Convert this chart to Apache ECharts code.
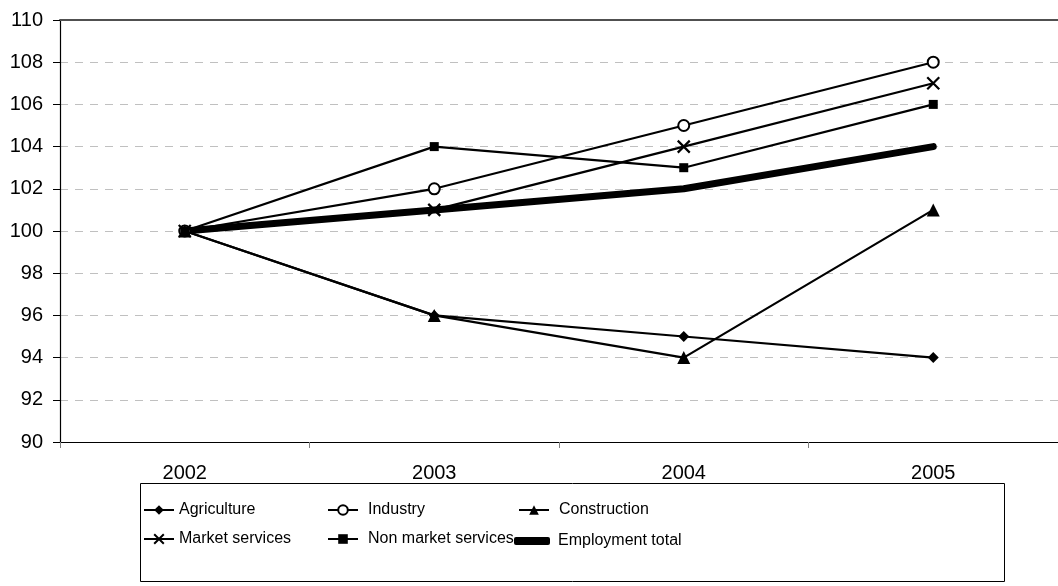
<!DOCTYPE html>
<html>
<head>
<meta charset="utf-8">
<script src="https://cdn.jsdelivr.net/npm/echarts@6/dist/echarts.min.js"></script>
<style>
  html, body { margin: 0; padding: 0; background: #fff; }
  #chart { width: 1058px; height: 586px; }
</style>
</head>
<body>
<div id="chart"></div>
<script>
// Employment index by sector, 2002 = 100
const years = ['2002', '2003', '2004', '2005'];
const agriculture = [100, 96, 95, 94];
const industry = [100, 102, 105, 108];
const construction = [100, 96, 94, 101];
const marketServices = [100, 101, 104, 107];
const nonMarketServices = [100, 104, 103, 106];
const employmentTotal = [100, 101, 102, 104];

const FONT = '"Liberation Sans", Arial, sans-serif';
const crossPath = 'path://M0,0L10,10M10,0L0,10';

function lineSeries(name, data, symbol, size, extra) {
  return Object.assign({
    name: name,
    type: 'line',
    data: data,
    symbol: symbol,
    symbolSize: size,
    showAllSymbol: true,
    color: '#000',
    lineStyle: { color: '#000', width: 2.2 },
    itemStyle: { color: '#000' },
    emphasis: { disabled: true }
  }, extra || {});
}

const series = [
  lineSeries('Agriculture', agriculture, 'diamond', 11),
  lineSeries('Industry', industry, 'emptyCircle', 11, {
    itemStyle: { color: '#000', borderColor: '#000', borderWidth: 1.8 }
  }),
  lineSeries('Construction', construction, 'triangle', 13),
  lineSeries('Market services', marketServices, crossPath, 12, {
    itemStyle: { color: 'rgba(0,0,0,0)', borderColor: '#000', borderWidth: 2.2 }
  }),
  lineSeries('Non market services', nonMarketServices, 'rect', 9),
  lineSeries('Employment total', employmentTotal, 'none', 0, {
    lineStyle: { color: '#000', width: 7, cap: 'round', join: 'round' }
  })
];

// one legend entry per slot so the 3x2 layout is fixed:
// [name, left, top, icon width, text offset]
const legendSlots = [
  ['Agriculture', 143, 502, 30, 0],
  ['Industry', 327, 502, 30, 5],
  ['Construction', 518, 502, 30, 5],
  ['Market services', 143, 531, 30, 0],
  ['Non market services', 327, 531, 30, 5],
  ['Employment total', 514, 531, 36, 3]
];

const legends = legendSlots.map(function (s) {
  const isTotal = s[0] === 'Employment total';
  const lg = {
    data: [s[0]],
    left: s[1],
    top: isTotal ? s[2] + 2 : s[2],
    itemWidth: s[3],
    itemHeight: isTotal ? 8 : 12,
    itemGap: 0,
    padding: 0,
    textStyle: {
      color: '#000', fontSize: 16, fontFamily: FONT,
      padding: [isTotal ? -2 : 0, 0, 0, s[4]]
    },
    selectedMode: false
  };
  if (isTotal) lg.icon = 'roundRect';
  return lg;
});

const chart = echarts.init(document.getElementById('chart'), null, { renderer: 'canvas' });
chart.setOption({
  animation: false,
  backgroundColor: '#fff',
  grid: { left: 60, right: -10, top: 20, bottom: 144, containLabel: false },
  legend: legends,
  graphic: [{
    type: 'rect',
    shape: { x: 140.5, y: 483.5, width: 864, height: 98 },
    style: { fill: 'none', stroke: '#000', lineWidth: 1 },
    z: -1
  }],
  xAxis: [{
    type: 'category',
    data: years,
    boundaryGap: true,
    axisLine: { lineStyle: { color: '#000', width: 1.2 } },
    axisTick: { show: true, interval: 0, length: 6, lineStyle: { color: '#808080' } },
    axisLabel: { color: '#000', fontSize: 20, fontFamily: FONT, margin: 21 },
    splitLine: { show: false }
  }, {
    type: 'category',
    data: years,
    position: 'top',
    axisLine: { lineStyle: { color: '#505050', width: 2 } },
    axisTick: { show: false },
    axisLabel: { show: false },
    splitLine: { show: false }
  }],
  yAxis: {
    type: 'value',
    min: 90,
    max: 110,
    interval: 2,
    axisLine: { show: true, lineStyle: { color: '#000', width: 1.2 } },
    axisTick: { show: true, length: 7, lineStyle: { color: '#000' } },
    axisLabel: { color: '#000', fontSize: 20, fontFamily: FONT, margin: 17 },
    splitLine: { show: true, lineStyle: { color: '#c0c0c0', type: [8, 7], width: 1 } }
  },
  series: series
});
</script>
</body>
</html>
